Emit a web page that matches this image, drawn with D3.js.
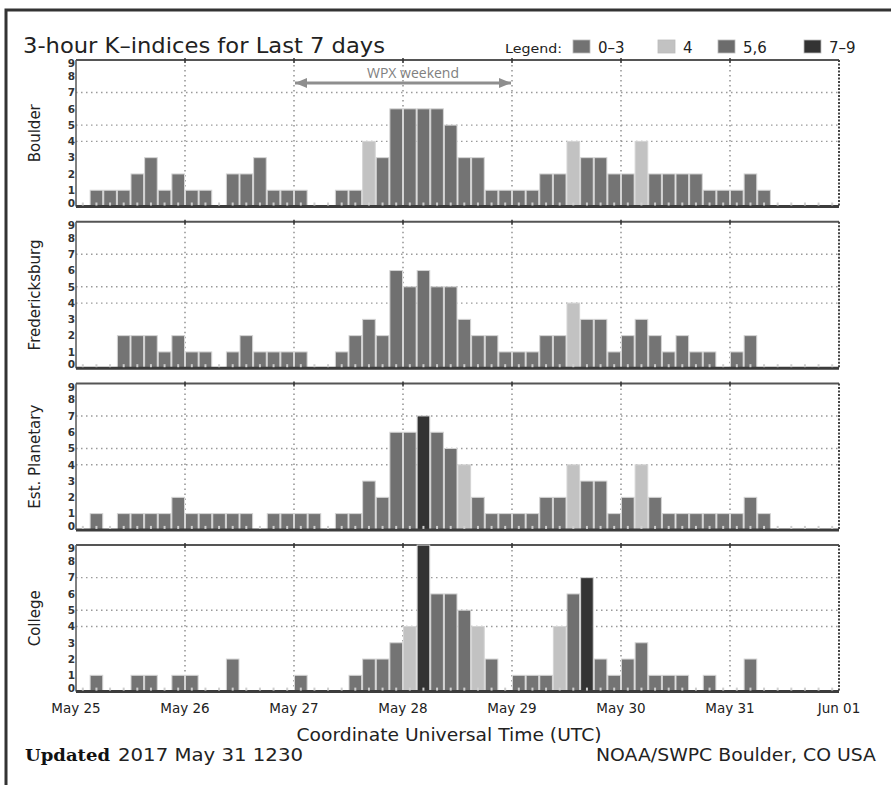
<!DOCTYPE html>
<html>
<head>
<meta charset="utf-8">
<script src="https://cdn.jsdelivr.net/npm/d3@7"></script>
<style>
  html, body { margin: 0; padding: 0; background: #ffffff; }
  svg { display: block; }
</style>
</head>
<body>
<div id="chart"></div>
<script>
// K-index values, one per 3-hour interval, May 25 00 UTC .. Jun 01 00 UTC
const stations = ["Boulder", "Fredericksburg", "Est. Planetary", "College"];

const boulder = [0,1,1,1,2,3,1,2, 1,1,0,2,2,3,1,1, 1,0,0,1,1,4,3,6, 6,6,6,5,3,3,1,1,
                 1,1,2,2,4,3,3,2, 2,4,2,2,2,2,1,1, 1,2,1,0,0,0,0,0];
const fredericksburg = [0,0,0,2,2,2,1,2, 1,1,0,1,2,1,1,1, 1,0,0,1,2,3,2,6, 5,6,5,5,3,2,2,1,
                        1,1,2,2,4,3,3,1, 2,3,2,1,2,1,1,0, 1,2,0,0,0,0,0,0];
const planetary = [0,1,0,1,1,1,1,2, 1,1,1,1,1,0,1,1, 1,1,0,1,1,3,2,6, 6,7,6,5,4,2,1,1,
                   1,1,2,2,4,3,3,1, 2,4,2,1,1,1,1,1, 1,2,1,0,0,0,0,0];
const college = [0,1,0,0,1,1,0,1, 1,0,0,2,0,0,0,0, 1,0,0,0,1,2,2,3, 4,9,6,6,5,4,2,0,
                 1,1,1,4,6,7,2,1, 2,3,1,1,1,0,1,0, 0,2,0,0,0,0,0,0];
const series = [boulder, fredericksburg, planetary, college];

const dayLabels = ["May 25", "May 26", "May 27", "May 28", "May 29", "May 30", "May 31", "Jun 01"];
const yTicks = [0, 1, 2, 3, 4, 5, 6, 7, 8, 9];
const gridLevels = [4, 5, 7];
const legendLabels = ["0\u20133", "4", "5,6", "7\u20139"];
const legendColors = ["#727272", "#c2c2c2", "#6c6c6c", "#333333"];

const width = 891, height = 785;
const startDay = new Date(Date.UTC(2017, 4, 25));
const endDay = new Date(Date.UTC(2017, 5, 1));
const wpxStart = new Date(Date.UTC(2017, 4, 27));
const wpxEnd = new Date(Date.UTC(2017, 4, 29));

const svg = d3.select("#chart").append("svg")
  .attr("width", width)
  .attr("height", height)
  .style("font-family", "'DejaVu Sans', sans-serif");

// outer frame
svg.append("path")
  .attr("d", `M6,${height} V10 H${width}`)
  .attr("fill", "none")
  .attr("stroke", "#333")
  .attr("stroke-width", 3);

const x = d3.scaleUtc().domain([startDay, endDay]).range([76, 839]);
const days = d3.utcDay.range(startDay, d3.utcDay.offset(endDay, 1));
const slots = d3.utcHour.every(3).range(startDay, endDay);

function kColor(k) {
  if (k <= 3) return "#747474";
  if (k === 4) return "#c2c2c2";
  if (k <= 6) return "#707070";
  return "#333333";
}

// title + legend
svg.append("text")
  .attr("x", 23)
  .attr("y", 53)
  .attr("font-size", "22px")
  .attr("fill", "#222")
  .attr("textLength", 362)
  .attr("lengthAdjust", "spacingAndGlyphs")
  .text("3-hour K\u2013indices for Last 7 days");

svg.append("text")
  .attr("x", 505)
  .attr("y", 53)
  .attr("font-size", "13px")
  .attr("fill", "#222")
  .attr("textLength", 57)
  .attr("lengthAdjust", "spacingAndGlyphs")
  .text("Legend:");

const legendX = [573, 658, 718, 804];
const legend = svg.append("g").selectAll("g")
  .data(legendLabels)
  .join("g")
  .attr("transform", (d, i) => `translate(${legendX[i]},40)`);

legend.append("rect")
  .attr("width", 17)
  .attr("height", 13)
  .attr("fill", (d, i) => legendColors[i])
  .attr("stroke", "#bbb")
  .attr("stroke-width", 0.8);

legend.append("text")
  .attr("x", 25)
  .attr("y", 13)
  .attr("font-size", "15px")
  .attr("fill", "#222")
  .text(d => d);

// panels
const panelH = 146.5;
const panelTop = i => 60 + i * 161.7;

stations.forEach((name, i) => {
  const top = panelTop(i);
  const bottom = top + panelH;
  const y = d3.scaleLinear().domain([0, 9]).range([bottom, top]);
  const g = svg.append("g");
  const values = series[i];

  // dotted grid
  g.append("g").selectAll("line")
    .data(gridLevels)
    .join("line")
    .attr("x1", x.range()[0])
    .attr("x2", x.range()[1])
    .attr("y1", d => y(d))
    .attr("y2", d => y(d))
    .attr("stroke", "#9a9a9a")
    .attr("stroke-width", 1.4)
    .attr("stroke-dasharray", "1.5,3.5");

  g.append("g").selectAll("line")
    .data(days.slice(1, -1))
    .join("line")
    .attr("x1", d => x(d))
    .attr("x2", d => x(d))
    .attr("y1", top)
    .attr("y2", bottom)
    .attr("stroke", "#8a8a8a")
    .attr("stroke-width", 1.4)
    .attr("stroke-dasharray", "1.5,3.5");

  // frame (top, left, dotted right)
  g.append("line")
    .attr("x1", x.range()[0]).attr("x2", x.range()[1])
    .attr("y1", top).attr("y2", top)
    .attr("stroke", "#555").attr("stroke-width", 2);
  g.append("line")
    .attr("x1", x.range()[0]).attr("x2", x.range()[0])
    .attr("y1", top).attr("y2", bottom)
    .attr("stroke", "#555").attr("stroke-width", 1.5);
  g.append("line")
    .attr("x1", x.range()[1]).attr("x2", x.range()[1])
    .attr("y1", top).attr("y2", bottom)
    .attr("stroke", "#444").attr("stroke-width", 2)
    .attr("stroke-dasharray", "2,1.5");

  g.append("g").selectAll("line")
    .data(days.slice(1, -1))
    .join("line")
    .attr("x1", d => x(d)).attr("x2", d => x(d))
    .attr("y1", top - 2).attr("y2", top + 3)
    .attr("stroke", "#333").attr("stroke-width", 1.5);

  // bars
  g.append("g").selectAll("rect")
    .data(slots.map((t, j) => ({ t, k: values[j] })).filter(d => d.k > 0))
    .join("rect")
    .attr("x", d => x(d.t) + 0.5)
    .attr("y", d => y(d.k))
    .attr("width", d => x(d3.utcHour.offset(d.t, 3)) - x(d.t) - 1)
    .attr("height", d => y(0) - y(d.k))
    .attr("fill", d => kColor(d.k))
    .attr("stroke", "#d4d4d4")
    .attr("stroke-width", 1);

  // baseline
  g.append("line")
    .attr("x1", x.range()[0]).attr("x2", x.range()[1])
    .attr("y1", bottom).attr("y2", bottom)
    .attr("stroke", "#3c3c3c").attr("stroke-width", 3);

  // small 3-hour marks along the bottom
  g.append("g").selectAll("rect")
    .data(slots)
    .join("rect")
    .attr("x", d => x(d3.utcMinute.offset(d, 90)) - 1)
    .attr("y", bottom - 4)
    .attr("width", 2)
    .attr("height", 3)
    .attr("fill", "#cfcfcf");

  // y tick labels (9 and 0 pushed inside the panel like the original)
  g.append("g").selectAll("text")
    .data(yTicks)
    .join("text")
    .attr("x", 75)
    .attr("y", d => Math.min(Math.max(y(d), top + 3.5), bottom - 3.5))
    .attr("dy", "0.36em")
    .attr("text-anchor", "end")
    .attr("font-size", "10.5px")
    .attr("font-weight", "bold")
    .attr("fill", "#333")
    .text(d => d);

  g.append("text")
    .attr("transform", `translate(40,${(top + bottom) / 2}) rotate(-90)`)
    .attr("text-anchor", "middle")
    .attr("font-size", "15px")
    .attr("fill", "#222")
    .text(name);

  if (i === 0) {
    const ay = top + 23;
    const defs = svg.append("defs");
    defs.append("marker")
      .attr("id", "wpx-head")
      .attr("viewBox", "0 0 12 10")
      .attr("refX", 12)
      .attr("refY", 5)
      .attr("markerWidth", 12)
      .attr("markerHeight", 10)
      .attr("markerUnits", "userSpaceOnUse")
      .attr("orient", "auto-start-reverse")
      .append("path")
      .attr("d", "M0,0 L12,5 L0,10 Z")
      .attr("fill", "#8e8e8e");

    g.append("line")
      .attr("x1", x(wpxStart) + 1)
      .attr("x2", x(wpxEnd) - 1)
      .attr("y1", ay)
      .attr("y2", ay)
      .attr("stroke", "#8e8e8e")
      .attr("stroke-width", 2.8)
      .attr("marker-start", "url(#wpx-head)")
      .attr("marker-end", "url(#wpx-head)");

    g.append("text")
      .attr("x", (x(wpxStart) + x(wpxEnd)) / 2 + 10)
      .attr("y", ay - 5)
      .attr("text-anchor", "middle")
      .attr("font-family", "'Open Sans', sans-serif")
      .attr("font-size", "14px")
      .attr("fill", "#808080")
      .text("WPX weekend");
  }
});

// time axis labels
const lastBottom = panelTop(3) + panelH;
svg.append("g").selectAll("text")
  .data(days)
  .join("text")
  .attr("x", d => x(d))
  .attr("y", lastBottom + 21)
  .attr("text-anchor", "middle")
  .attr("font-size", "13.5px")
  .attr("fill", "#222")
  .text((d, i) => dayLabels[i]);

svg.append("text")
  .attr("x", 449)
  .attr("y", 741)
  .attr("text-anchor", "middle")
  .attr("font-size", "17px")
  .attr("fill", "#222")
  .attr("textLength", 305)
  .attr("lengthAdjust", "spacingAndGlyphs")
  .text("Coordinate Universal Time (UTC)");

svg.append("text")
  .attr("x", 25)
  .attr("y", 761)
  .attr("font-family", "'DejaVu Serif', serif")
  .attr("font-weight", "bold")
  .attr("font-size", "16px")
  .attr("fill", "#111")
  .attr("textLength", 85)
  .attr("lengthAdjust", "spacingAndGlyphs")
  .text("Updated");

svg.append("text")
  .attr("x", 118)
  .attr("y", 761)
  .attr("font-size", "17px")
  .attr("fill", "#222")
  .attr("textLength", 185)
  .attr("lengthAdjust", "spacingAndGlyphs")
  .text("2017 May 31 1230");

svg.append("text")
  .attr("x", 876)
  .attr("y", 761)
  .attr("text-anchor", "end")
  .attr("font-size", "17px")
  .attr("fill", "#222")
  .attr("textLength", 280)
  .attr("lengthAdjust", "spacingAndGlyphs")
  .text("NOAA/SWPC Boulder, CO USA");
</script>
</body>
</html>
